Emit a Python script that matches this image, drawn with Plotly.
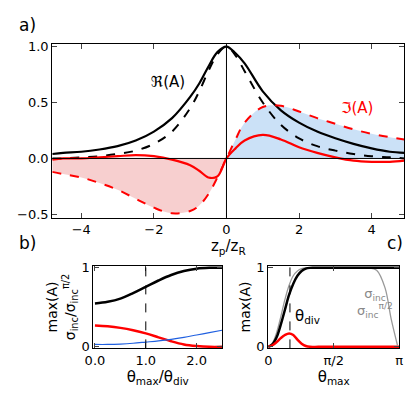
import plotly.graph_objects as go

# Panel a data
za = [-4.8,-4.5,-4,-3.5,-3,-2.5,-2,-1.5,-1,-0.75,-0.5,-0.25,0,0.25,0.5,1,1.5,2,2.5,3,3.5,4,4.5,4.9]
re_solid = [0.04,0.05,0.06,0.08,0.11,0.16,0.24,0.36,0.55,0.67,0.82,0.95,1.0,0.94,0.85,0.6,0.43,0.32,0.24,0.18,0.13,0.09,0.06,0.05]
re_dash = [0.0,0.0,0.01,0.02,0.04,0.07,0.13,0.24,0.45,0.6,0.78,0.93,1.0,0.92,0.78,0.5,0.3,0.18,0.11,0.07,0.04,0.02,0.01,0.0]
im_dash = [-0.12,-0.14,-0.17,-0.22,-0.28,-0.36,-0.44,-0.49,-0.47,-0.42,-0.32,-0.17,0,0.17,0.32,0.46,0.47,0.42,0.36,0.31,0.26,0.22,0.19,0.17]
im_solid = [-0.01,0.0,0.0,0.01,0.02,0.03,0.02,-0.01,-0.06,-0.11,-0.17,-0.16,0,0.09,0.16,0.21,0.17,0.1,0.05,0.01,-0.02,-0.03,-0.03,-0.02]

# Panel b data
tb = [0,0.25,0.5,0.75,1,1.25,1.5,1.75,2,2.25,2.5]
b_black = [0.55,0.57,0.61,0.68,0.76,0.84,0.91,0.96,0.99,1.0,1.0]
b_red = [0.27,0.26,0.24,0.21,0.17,0.12,0.07,0.03,0.01,0.0,0.0]
b_blue = [0.03,0.03,0.035,0.045,0.06,0.075,0.095,0.12,0.15,0.18,0.21]

# Panel c data
tc = [0,0.1,0.2,0.3,0.4,0.5,0.6,0.7,0.8,0.9,1.0,1.2,1.6,2.0,2.4,2.8,3.14]
c_black = [0,0.03,0.12,0.28,0.47,0.66,0.8,0.9,0.96,0.99,1,1,1,1,1,1,1]
c_red = [0,0.02,0.06,0.11,0.15,0.17,0.15,0.09,0.04,0.01,0,0,0,0,0,0,0]
tg = [0,0.1,0.2,0.3,0.4,0.5,0.6,0.7,0.8,0.9,1.0,1.5,2.0,2.4,2.6,2.8,2.95,3.1]
c_gray = [0,0.05,0.18,0.38,0.6,0.78,0.9,0.96,0.99,1,1,1,1,1,0.97,0.75,0.35,0.02]

fig = go.Figure()
neg = [i for i, z in enumerate(za) if z <= 0]
pos = [i for i, z in enumerate(za) if z >= 0]
fig.add_trace(go.Scatter(x=[za[i] for i in neg], y=[im_dash[i] for i in neg], fill='tozeroy',
                         fillcolor='rgba(240,160,160,0.5)', line=dict(width=0, shape='spline'), mode='lines'))
fig.add_trace(go.Scatter(x=[za[i] for i in pos], y=[im_dash[i] for i in pos], fill='tozeroy',
                         fillcolor='rgba(160,200,240,0.55)', line=dict(width=0, shape='spline'), mode='lines'))
fig.add_trace(go.Scatter(x=za, y=re_dash, mode='lines', line=dict(color='black', width=2, dash='dash', shape='spline')))
fig.add_trace(go.Scatter(x=za, y=re_solid, mode='lines', line=dict(color='black', width=2.2, shape='spline')))
fig.add_trace(go.Scatter(x=za, y=im_dash, mode='lines', line=dict(color='red', width=2, dash='dash', shape='spline')))
fig.add_trace(go.Scatter(x=za, y=im_solid, mode='lines', line=dict(color='red', width=2.2, shape='spline')))

fig.add_trace(go.Scatter(x=tb, y=b_black, mode='lines', line=dict(color='black', width=2.5, shape='spline'), xaxis='x2', yaxis='y2'))
fig.add_trace(go.Scatter(x=tb, y=b_red, mode='lines', line=dict(color='red', width=2.5, shape='spline'), xaxis='x2', yaxis='y2'))
fig.add_trace(go.Scatter(x=tb, y=b_blue, mode='lines', line=dict(color='#2060e0', width=1.2, shape='spline'), xaxis='x2', yaxis='y2'))

fig.add_trace(go.Scatter(x=tg, y=c_gray, mode='lines', line=dict(color='#999999', width=1.3, shape='spline'), xaxis='x3', yaxis='y3'))
fig.add_trace(go.Scatter(x=tc, y=c_black, mode='lines', line=dict(color='black', width=2.5, shape='spline'), xaxis='x3', yaxis='y3'))
fig.add_trace(go.Scatter(x=tc, y=c_red, mode='lines', line=dict(color='red', width=2.5, shape='spline'), xaxis='x3', yaxis='y3'))

ax = dict(showline=True, mirror='ticks', linecolor='black', linewidth=1.2, ticks='inside', ticklen=5,
          showgrid=False, zeroline=False, tickfont=dict(size=13, color='black'))
fig.update_layout(
    width=405, height=393, margin=dict(l=0, r=0, t=0, b=0), showlegend=False,
    plot_bgcolor='white', paper_bgcolor='white', font=dict(family='DejaVu Sans', color='black'),
    xaxis=dict(ax, domain=[0.09, 0.988], range=[-4.8, 4.9], tickvals=[-4,-2,0,2,4],
               ticktext=['−4','−2','0','2','4'],
               title=dict(text='z<sub>p</sub>/z<sub>R</sub>', font=dict(size=15), standoff=2)),
    yaxis=dict(ax, domain=[0.464, 0.918], range=[-0.53, 1.02], tickvals=[-0.5,0,0.5,1],
               ticktext=['−0.5','0.0','0.5','1.0']),
    xaxis2=dict(ax, anchor='y2', domain=[0.195, 0.523], range=[-0.03, 2.5], tickvals=[0,1,2],
                ticktext=['0.0','1.0','2.0'],
                title=dict(text='θ<sub>max</sub>/θ<sub>div</sub>', font=dict(size=15), standoff=4)),
    yaxis2=dict(ax, anchor='x2', domain=[0.122, 0.339], range=[-0.02, 1.03], tickvals=[0,1],
                title=dict(text='max(A)<br>σ<sub>inc</sub>/σ<sub>inc</sub><sup>π/2</sup>', font=dict(size=14), standoff=2)),
    xaxis3=dict(ax, anchor='y3', domain=[0.641, 0.975], range=[0, 3.1416], tickvals=[0, 1.5708, 3.1416],
                ticktext=['0','π/2','π'],
                title=dict(text='θ<sub>max</sub>', font=dict(size=15), standoff=4)),
    yaxis3=dict(ax, anchor='x3', domain=[0.122, 0.339], range=[-0.02, 1.03], tickvals=[0,1],
                title=dict(text='max(A)', font=dict(size=14), standoff=2)),
    shapes=[
        dict(type='line', xref='x', yref='paper', x0=0, x1=0, y0=0.464, y1=0.918, line=dict(color='black', width=1)),
        dict(type='line', xref='paper', yref='y', x0=0.09, x1=0.988, y0=0, y1=0, line=dict(color='black', width=1)),
        dict(type='line', xref='x2', yref='y2', x0=1, x1=1, y0=-0.02, y1=1.03, line=dict(color='black', width=1, dash='dash')),
        dict(type='line', xref='x3', yref='y3', x0=0.52, x1=0.52, y0=-0.02, y1=1.03, line=dict(color='black', width=1, dash='dash')),
    ],
    annotations=[
        dict(text='a)', x=0.0, y=1.0, xref='paper', yref='paper', xanchor='left', yanchor='top', showarrow=False, font=dict(size=17)),
        dict(text='b)', x=0.0, y=0.43, xref='paper', yref='paper', xanchor='left', yanchor='top', showarrow=False, font=dict(size=17)),
        dict(text='c)', x=0.99, y=0.43, xref='paper', yref='paper', xanchor='right', yanchor='top', showarrow=False, font=dict(size=17)),
        dict(text='ℜ(A)', x=-1.6, y=0.68, xref='x', yref='y', showarrow=False, font=dict(size=15)),
        dict(text='ℑ(A)', x=3.6, y=0.45, xref='x', yref='y', showarrow=False, font=dict(size=15, color='red')),
        dict(text='θ<sub>div</sub>', x=0.95, y=0.38, xref='x3', yref='y3', showarrow=False, font=dict(size=15)),
        dict(text='σ<sub>inc</sub><br>σ<sub>inc</sub><sup>π/2</sup>', x=2.55, y=0.55, xref='x3', yref='y3',
             showarrow=False, font=dict(size=13, color='#888888')),
    ],
)
fig.write_html('out.html')
